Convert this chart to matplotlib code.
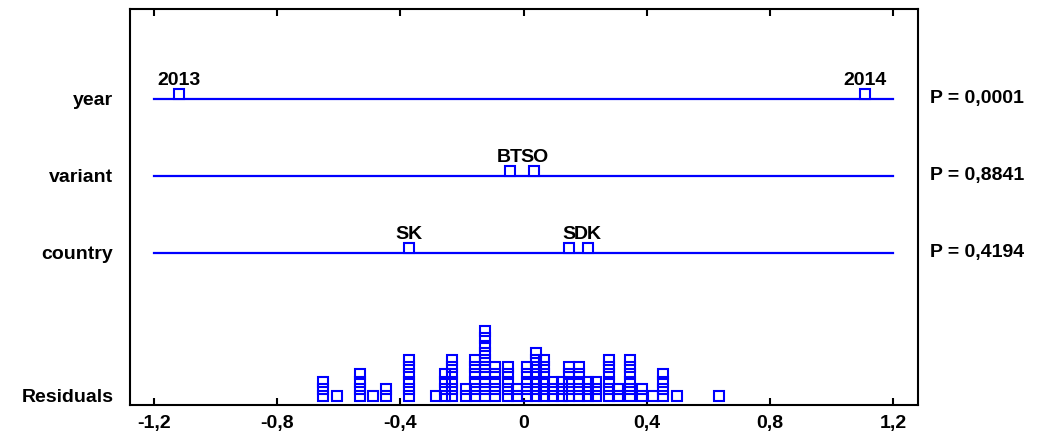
import matplotlib.pyplot as plt

plt.rcParams['font.family'] = ['Liberation Sans', 'DejaVu Sans']
plt.rcParams['font.weight'] = 'bold'

# factors (top to bottom), their level effects and p-values
factors = ['year', 'variant', 'country']
levels = [['2013', '2014'], ['BT', 'SO'], ['SK', 'S', 'DK']]
effects = [[-1.118, 1.109], [-0.044, 0.034], [-0.372, 0.148, 0.208]]
pvals = ['P = 0,0001', 'P = 0,8841', 'P = 0,4194']

# residuals: bin centres and how many squares are stacked there
res_x = [-0.65, -0.607, -0.53, -0.49, -0.446, -0.372, -0.284, -0.255, -0.232,
         -0.187, -0.157, -0.125, -0.093, -0.05, -0.02, 0.01, 0.04, 0.067,
         0.097, 0.125, 0.148, 0.18, 0.208, 0.235, 0.278, 0.307, 0.345,
         0.384, 0.42, 0.453, 0.498, 0.636]
res_n = [3, 1, 4, 1, 2, 6, 1, 4, 6, 2, 6, 10, 5, 5, 2, 5, 7, 6, 3, 3, 5, 5,
         3, 3, 6, 2, 6, 2, 1, 4, 1, 1]

xticks = [-1.2, -0.8, -0.4, 0, 0.4, 0.8, 1.2]
xlabels = ['-1,2', '-0,8', '-0,4', '0', '0,4', '0,8', '1,2']

blue = '#0000ff'
row_y = [3, 2, 1]
res_base = -0.857
res_step = 0.0935
fs = 14

fig = plt.figure(figsize=(10.37, 4.43), dpi=100)
ax = fig.add_axes([0.1254, 0.0858, 0.7599, 0.8942])

for i, f in enumerate(factors):
    y = row_y[i]
    ax.plot([-1.2, 1.2], [y, y], color=blue, lw=1.6)
    ax.plot(effects[i], [y + 0.07] * len(effects[i]), 's', ms=6.6,
            mfc='white', mec=blue, mew=1.5)
    for lab, ex in zip(levels[i], effects[i]):
        ax.text(ex, y + 0.125, lab, ha='center', va='bottom', fontsize=fs,
                fontweight='bold')
    ax.annotate(pvals[i], xy=(1, y), xycoords=('axes fraction', 'data'),
                xytext=(12, 0), textcoords='offset pixels', ha='left',
                va='center', fontsize=fs, fontweight='bold')

xs, ys = [], []
for x, n in zip(res_x, res_n):
    for k in range(n):
        xs.append(x)
        ys.append(res_base + k * res_step)
ax.plot(xs, ys, 's', ms=6.6, mfc='none', mec=blue, mew=1.5, ls='none')

ax.set_xlim(-1.278, 1.281)
ax.set_ylim(-0.974, 4.169)
ax.set_xticks(xticks)
ax.set_xticklabels(xlabels, fontsize=fs, fontweight='bold')
ax.set_yticks(row_y + [res_base])
ax.set_yticklabels(factors + ['Residuals'], fontsize=fs, fontweight='bold')
ax.tick_params(axis='x', direction='in', length=5, width=1.5, top=True,
               pad=7)
ax.tick_params(axis='y', length=0, pad=12)
for s in ax.spines.values():
    s.set_linewidth(1.5)

fig.savefig('out.png', dpi=100)
